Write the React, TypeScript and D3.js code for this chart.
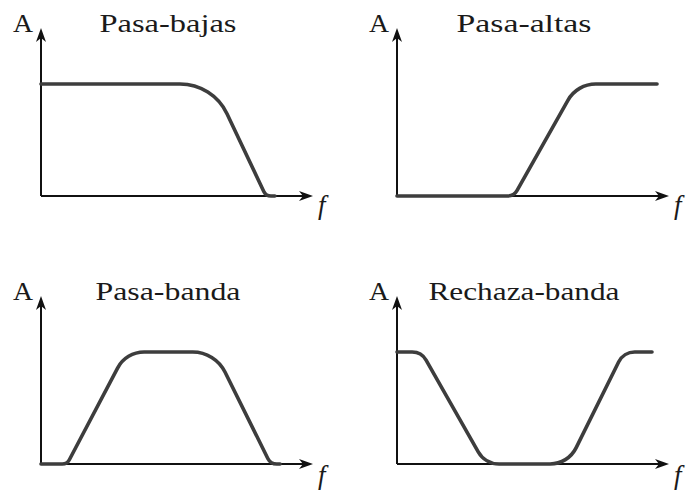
import React from "react";
import * as d3 from "d3";

const W = 688;
const H = 490;

// Normalised frequency / amplitude breakpoints of each filter response
const lowPassF = [0, 0.632, 0.827, 0.86];
const lowPassA = [1, 1, 0, 0];
const highPassF = [0, 0.43, 0.662, 0.956];
const highPassA = [0, 0, 1, 1];
const bandPassF = [0, 0.096, 0.3125, 0.64, 0.844, 0.879];
const bandPassA = [0, 0, 1, 1, 0, 0];
const bandStopF = [0, 0.09, 0.324, 0.629, 0.833, 0.9375];
const bandStopA = [1, 1, 0, 0, 1, 1];

const titles = ["Pasa-bajas", "Pasa-altas", "Pasa-banda", "Rechaza-banda"];
const yLabel = "A";
const xLabel = "f";

type Pt = [number, number];

// Fillet radius (px) of the knee at each breakpoint
const kneeLow = [0, 52, 8, 0];
const kneeHigh = [0, 11, 32, 0];
const kneeBandPass = [0, 8, 30, 36, 10, 0];
const kneeBandStop = [0, 16, 24, 29, 18, 0];

const titleWidths = [137, 135, 145, 191];

const SERIF = "Liberation Serif, Tinos, Times New Roman, Times, serif";

const panels = [
  { f: lowPassF, a: lowPassA, knee: kneeLow, ox: 41, oy: 196, fy: 214 },
  { f: highPassF, a: highPassA, knee: kneeHigh, ox: 397, oy: 196, fy: 214 },
  { f: bandPassF, a: bandPassA, knee: kneeBandPass, ox: 41, oy: 464, fy: 484 },
  { f: bandStopF, a: bandStopA, knee: kneeBandStop, ox: 397, oy: 464, fy: 484 },
];

const AXIS_LEN = 272;
const UNIT = 112;

// Polyline through the breakpoints with circular fillets at each knee
function filletPath(pts: Pt[], radii: number[]): string {
  const p = d3.path();
  p.moveTo(pts[0][0], pts[0][1]);
  for (let i = 1; i < pts.length - 1; i++) {
    const V = pts[i];
    const N = pts[i + 1];
    if (radii[i]) p.arcTo(V[0], V[1], N[0], N[1], radii[i]);
    else p.lineTo(V[0], V[1]);
  }
  const last = pts[pts.length - 1];
  p.lineTo(last[0], last[1]);
  return p.toString();
}

function Arrow({ x, y, angle }: { x: number; y: number; angle: number }) {
  // tip at origin, pointing along +x
  const d = "M0,0 L-14,-5 L-10,0 L-14,5 Z";
  return <path d={d} transform={`translate(${x},${y}) rotate(${angle})`} fill="#111" />;
}

function Panel({ idx }: { idx: number }) {
  const p = panels[idx];
  const x = d3.scaleLinear().domain([0, 1]).range([p.ox, p.ox + AXIS_LEN]);
  const y = d3.scaleLinear().domain([0, 1]).range([p.oy, p.oy - UNIT]);
  const pts: Pt[] = p.f.map((fv, i) => [x(fv), y(p.a[i])]);
  const xEnd = x(1);
  const yEnd = y(1.5);
  const labelY = yEnd + 4;
  return (
    <g>
      <line x1={x(0)} y1={y(0)} x2={xEnd - 8} y2={y(0)} stroke="#111" strokeWidth={2} />
      <line x1={x(0)} y1={y(0)} x2={x(0)} y2={yEnd + 8} stroke="#111" strokeWidth={2} />
      <Arrow x={xEnd} y={y(0)} angle={0} />
      <Arrow x={x(0)} y={yEnd} angle={-90} />
      <path
        d={filletPath(pts, p.knee)}
        fill="none"
        stroke="#3d3d3d"
        strokeWidth={3.6}
        strokeLinejoin="round"
        strokeLinecap="round"
      />
      <text
        x={x(0) - 28}
        y={labelY}
        fontFamily={SERIF}
        fontSize={25}
        textLength={20}
        lengthAdjust="spacingAndGlyphs"
        fill="#1a1a1a"
      >
        {yLabel}
      </text>
      <text
        x={x(0) + 127 - titleWidths[idx] / 2}
        y={labelY}
        fontFamily={SERIF}
        fontSize={25}
        textLength={titleWidths[idx]}
        lengthAdjust="spacingAndGlyphs"
        fill="#1a1a1a"
      >
        {titles[idx]}
      </text>
      <text
        x={xEnd + 5}
        y={p.fy}
        fontFamily={SERIF}
        fontStyle="italic"
        fontSize={27}
        fill="#1a1a1a"
      >
        {xLabel}
      </text>
    </g>
  );
}

export default function App() {
  return (
    <svg
      width={W}
      height={H}
      viewBox={`0 0 ${W} ${H}`}
      style={{ position: "absolute", left: 0, top: 0, background: "#fff" }}
    >
      <rect width={W} height={H} fill="#fff" />
      {panels.map((_, i) => (
        <Panel key={i} idx={i} />
      ))}
    </svg>
  );
}
